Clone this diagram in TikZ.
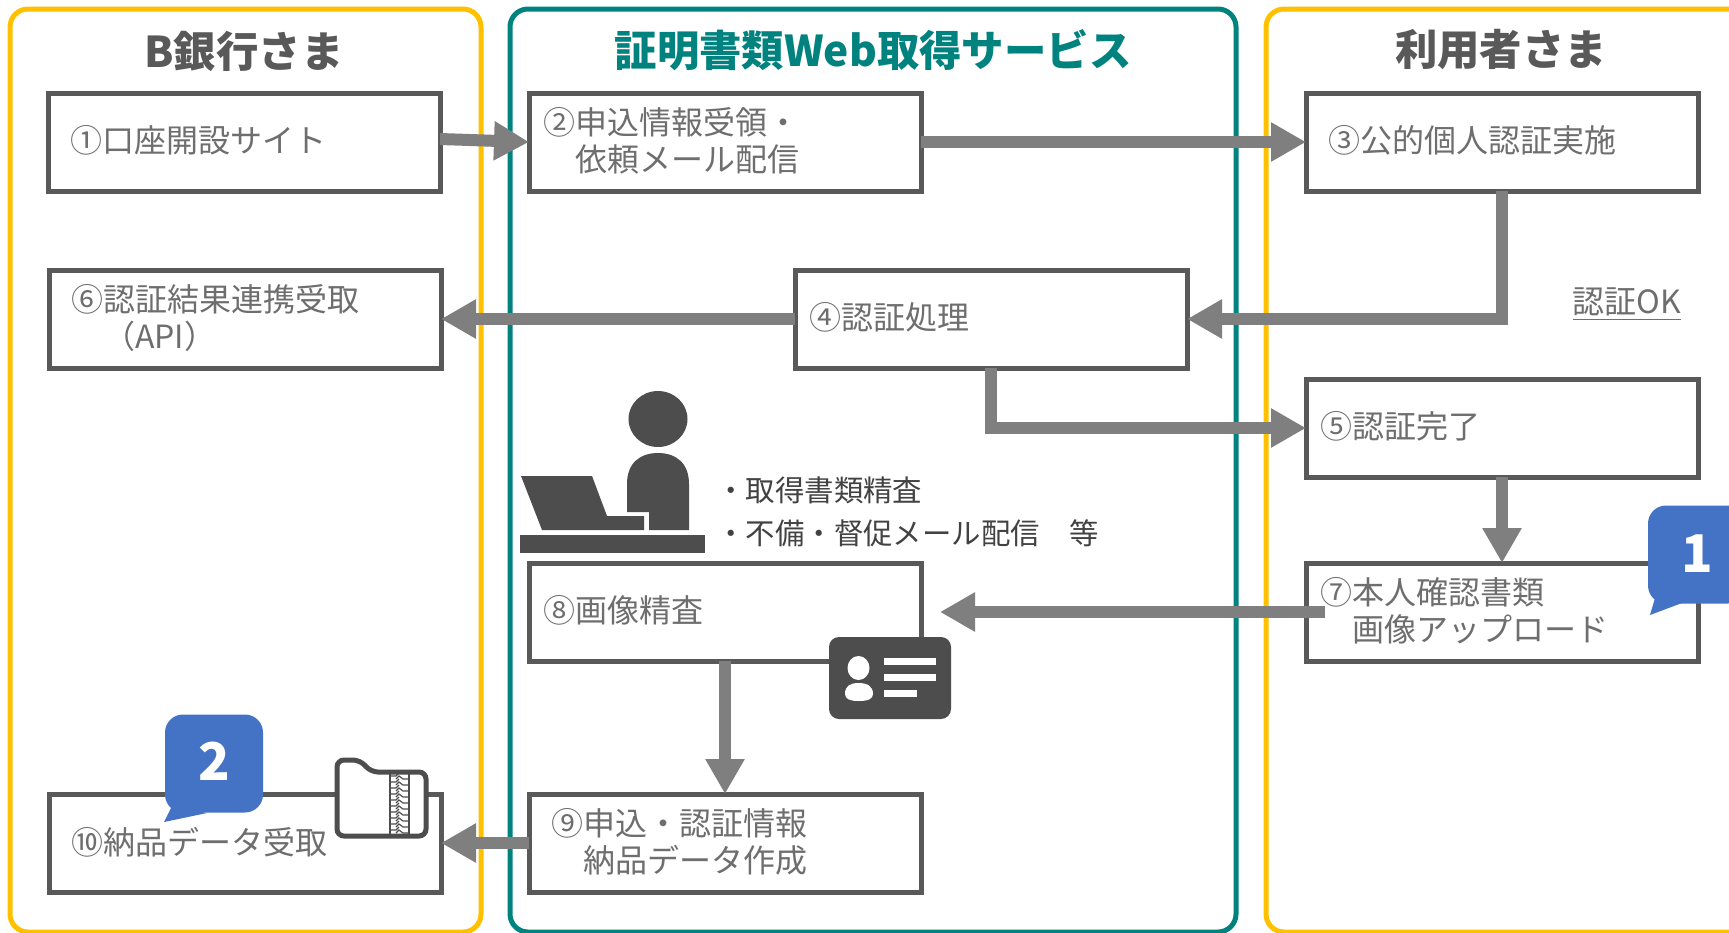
\documentclass[tikz,border=0pt]{standalone}
\usepackage{fontspec}
\setmainfont{Noto Sans CJK JP}
\usetikzlibrary{arrows.meta}
\usepackage{xcolor}
\definecolor{bankStroke}{HTML}{FFC000}
\definecolor{serviceStroke}{HTML}{00827F}
\definecolor{stepStroke}{HTML}{595959}
\definecolor{stepText}{HTML}{6E6E6E}
\definecolor{flowColor}{HTML}{7F7F7F}
\definecolor{iconFill}{HTML}{4D4D4D}
\definecolor{noteFill}{HTML}{4472C4}
\newcommand{\StepWidth}{196}
\newcommand{\StepHeight}{49}
\newcommand{\PlaceStep}[5]{%
  % #1 name, #2 x-position, #3 y-position, #4 left gap in pt, #5 text
  \pgfmathsetmacro{\StepText}{\StepWidth-2*#4}
  \node[stepbox,inner xsep=#4pt,text width=\StepText pt] (#1) at (#2,#3) {#5\par\vspace{1.2pt}};
}

\begin{document}
\begin{tikzpicture}[
  x=0.5pt,y=-0.5pt,
  panel/.style={draw=#1,line width=2.5pt,rounded corners=9pt,fill=white,inner sep=0pt},
  title/.style={font=\bfseries\fontsize{21.2}{25}\selectfont,inner sep=0pt},
  stepbox/.style={draw=stepStroke,line width=2.5pt,fill=white,align=left,text=stepText,outer sep=0pt,
    minimum width=\StepWidth pt,minimum height=\StepHeight pt,inner ysep=0pt,
    font=\fontsize{16}{18.7}\selectfont},
  flow/.style={draw=flowColor,line width=6pt,-{Triangle[length=17.5pt,width=18.5pt]}},
  remark/.style={font=\fontsize{14.7}{17}\selectfont,text=iconFill!85!black,inner sep=0pt,anchor=west},
  note/.style={fill=noteFill,rounded corners=9pt,text=white,font=\bfseries\fontsize{26}{30}\selectfont,
    minimum width=49pt,minimum height=49pt,inner sep=0pt}
]
\useasboundingbox (0,0) rectangle (1729,932);
\clip (0,0) rectangle (1729,932);

% Panels
\node[panel=bankStroke,minimum width=235.5pt,minimum height=461.5pt] (bank) at (245.5,470.5) {};
\node[panel=serviceStroke,minimum width=363pt,minimum height=461.5pt] (service) at (873,470.5) {};
\node[panel=bankStroke,minimum width=247pt,minimum height=461.5pt] (user) at (1513,470.5) {};
\node[title,text=stepStroke] (banktitle) at (244,51) {B銀行さま};
\node[title,text=serviceStroke] (servicetitle) at (873,50) {証明書類Web取得サービス};
\node[title,text=stepStroke] (usertitle) at (1501,50) {利用者さま};

% Steps
\PlaceStep{site}{244}{142}{11}{①口座開設サイト}
\PlaceStep{receipt}{725}{142}{7}{②申込情報受領・\\　依頼メール配信}
\PlaceStep{auth}{1502}{142}{11}{③公的個人認証実施}
\PlaceStep{process}{991}{319}{7}{④認証処理}
\PlaceStep{done}{1502}{428}{7}{⑤認証完了}
\PlaceStep{result}{245}{319}{11}{⑥認証結果連携受取\\　（API）}
\PlaceStep{upload}{1502}{612}{7}{⑦本人確認書類\\　画像アップロード}
\PlaceStep{review}{725}{612}{7}{⑧画像精査}
\PlaceStep{makedata}{725}{843}{11}{⑨申込・認証情報\\　納品データ作成}
\PlaceStep{delivery}{245}{843}{11}{⑩納品データ受取}

% Flows
\coordinate (uploadstart) at ([xshift=9.5pt]upload.west);
\coordinate (reviewend) at ([xshift=9.5pt]review.east);
\draw[flow] ([yshift=1.5pt]site.east) -- (receipt.west);
\draw[flow] (receipt.east) -- (auth.west);
\draw[flow] (auth.south) |- (process.east);
\draw[flow] (process.west) -- (result.east);
\draw[flow] (process.south) |- (done.west);
\draw[flow] (done.south) -- (upload.north);
\draw[flow] (uploadstart) -- (reviewend);
\draw[flow] (review.south) -- (makedata.north);
\draw[flow] (makedata.west) -- (delivery.east);

% Labels
\node[font=\fontsize{16}{18.7}\selectfont,text=stepText,inner sep=0pt] (authok) at (1627,304) {\underline{認証OK}};
\node[remark] (checktext) at (716,490) {・取得書類精査};
\node[remark] (mailtext) at (716,533) {・不備・督促メール配信　等};

% Person at the desk
\fill[iconFill] (658,419) ellipse (29.5 and 28);
\fill[iconFill] (627,512) -- (627,484) .. controls (627,463) and (640,453) .. (658,453)
  .. controls (676,453) and (689,463) .. (689,484) -- (689,530) -- (649,530) -- (649,512) -- cycle;
\fill[iconFill] (521,476) -- (592,476) -- (607,516) -- (644,516) -- (644,530) -- (542,530) -- cycle;
\fill[iconFill] (520,535) rectangle (705,553);

% ID card
\fill[iconFill,rounded corners=5pt] (829,637) rectangle (951,719);
\fill[white] (858.5,668) ellipse (11 and 12);
\fill[white] (845,694) .. controls (845,686) and (850,683) .. (858.5,683)
  .. controls (867,683) and (873,686) .. (873,694) .. controls (873,699) and (868,701) .. (858.5,701)
  .. controls (850,701) and (845,699) .. (845,694) -- cycle;
\fill[white] (884,658) rectangle (936,665);
\fill[white] (884,674) rectangle (936,681);
\fill[white] (884,690) rectangle (917,697);

% Zipped folder
\draw[draw=iconFill,fill=white,line width=2.5pt,rounded corners=3.5pt]
  (337,760) -- (360,760) -- (371,772) -- (426,772) -- (426,836) -- (337,836) -- cycle;
\draw[iconFill,line width=1pt] (390,772) -- (390,836) (409,772) -- (409,836);
\foreach \k in {0,...,9}{%
  \draw[iconFill,line width=0.6pt] (390,{776+\k*6}) -- (396,{776+\k*6}) -- (399,{773+\k*6}) (409,{779+\k*6}) -- (403,{779+\k*6}) -- (399,{776+\k*6}) -- (396,{779+\k*6});
}

% Notes
\fill[noteFill] (172,806) -- (164,822) -- (207,813) -- cycle;
\node[note] (notetwo) at (214,763.5) {\raisebox{2pt}{2}};
\fill[noteFill] (1655,598) -- (1650,615) -- (1682,603) -- cycle;
\node[note] (noteone) at (1697,554.5) {\raisebox{1pt}{1}};

\end{tikzpicture}
\end{document}
